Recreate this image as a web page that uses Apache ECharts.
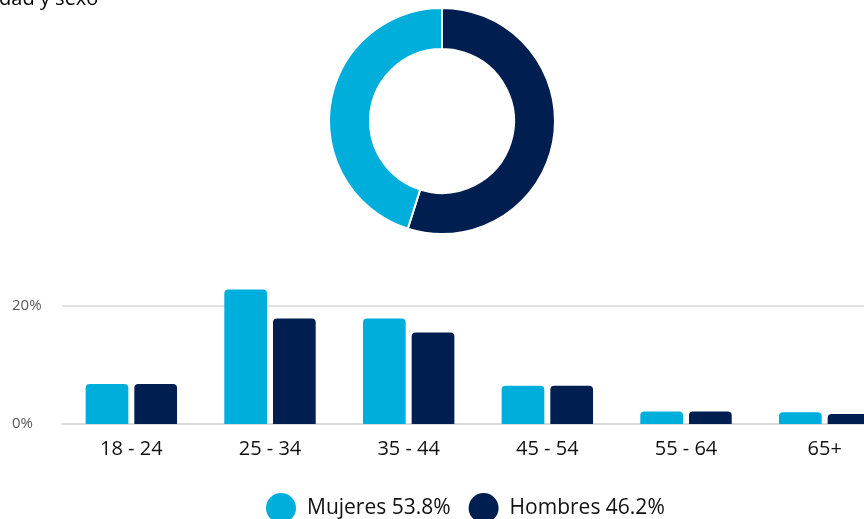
<!DOCTYPE html>
<html>
<head>
<meta charset="utf-8">
<script src="https://cdn.jsdelivr.net/npm/echarts@6/dist/echarts.min.js"></script>
<style>
  html, body { margin: 0; padding: 0; background: #fff; }
  #chart { width: 864px; height: 519px; }
</style>
</head>
<body>
<div id="chart"></div>
<script>
// categories and values
var ageGroups = ['18 - 24', '25 - 34', '35 - 44', '45 - 54', '55 - 64', '65+']
var mujeres = [6.8, 22.8, 17.9, 6.5, 2.1, 2.0]
var hombres = [6.8, 17.9, 15.5, 6.5, 2.1, 1.7]
var legendNames = ['Mujeres 53.8%', 'Hombres 46.2%']
// donut as drawn: navy slice from 12 o'clock clockwise, then light blue
var donutNames = ['Hombres 46.2%', 'Mujeres 53.8%']
var donutValues = [54.9, 45.1]

var lightBlue = '#00AEDB'
var navy = '#011E51'
var font = 'Open Sans'

var chart = echarts.init(document.getElementById('chart'))

chart.setOption({
  animation: false,
  color: [lightBlue, navy],
  textStyle: { fontFamily: font },
  graphic: [{
    type: 'text',
    left: -12,
    top: -11,
    style: {
      text: 'Edad y sexo',
      font: '20px "Open Sans"',
      fill: '#000'
    }
  }],
  legend: {
    data: legendNames,
    left: 261,
    top: 488,
    icon: 'circle',
    itemWidth: 30,
    itemHeight: 30,
    itemGap: 18,
    textStyle: {
      fontFamily: font,
      fontSize: 21,
      color: '#111',
      padding: [0, 0, 0, 6]
    }
  },
  grid: {
    left: 62,
    right: -30,
    top: 276.5,
    bottom: 95,
    outerBoundsMode: 'none'
  },
  xAxis: {
    type: 'category',
    data: ageGroups,
    axisTick: { show: false },
    axisLine: { lineStyle: { color: '#d9d9d9', width: 1.5 } },
    axisLabel: {
      fontFamily: font,
      fontSize: 20,
      color: '#111',
      margin: 15
    }
  },
  yAxis: {
    type: 'value',
    min: 0,
    max: 25,
    interval: 20,
    axisLabel: {
      formatter: '{value}%',
      fontFamily: font,
      fontSize: 15,
      color: '#595959',
      align: 'left',
      margin: 50,
      showMaxLabel: false
    },
    splitLine: {
      showMaxLine: false,
      lineStyle: { color: '#d9d9d9', width: 1.5 }
    }
  },
  series: [
    {
      name: legendNames[0],
      type: 'bar',
      data: mujeres,
      barWidth: '30.8%',
      barGap: '14%',
      itemStyle: { color: lightBlue, borderRadius: [4, 4, 0, 0] }
    },
    {
      name: legendNames[1],
      type: 'bar',
      data: hombres,
      barWidth: '30.8%',
      barGap: '14%',
      itemStyle: { color: navy, borderRadius: [4, 4, 0, 0] }
    },
    {
      type: 'pie',
      center: [442, 121],
      radius: [72, 113],
      startAngle: 90,
      label: { show: false },
      labelLine: { show: false },
      itemStyle: { borderColor: '#fff', borderWidth: 2 },
      data: [
        { name: donutNames[0], value: donutValues[0], itemStyle: { color: navy } },
        { name: donutNames[1], value: donutValues[1], itemStyle: { color: lightBlue } }
      ]
    }
  ]
})
</script>
</body>
</html>
